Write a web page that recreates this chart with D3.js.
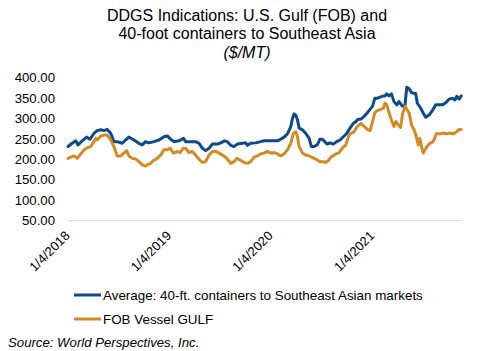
<!DOCTYPE html>
<html><head><meta charset="utf-8">
<script src="https://cdn.jsdelivr.net/npm/d3@7"></script>
<style>
body{margin:0;background:#fff}
svg{display:block;font-family:"Liberation Sans",Arial,sans-serif}
</style>
</head><body>
<svg id="chart" width="491" height="351"></svg>
<script>
const titleLines = ["DDGS Indications: U.S. Gulf (FOB) and", "40-foot containers to Southeast Asia", "($/MT)"];
const seriesNames = ["Average: 40-ft. containers to Southeast Asian markets", "FOB Vessel GULF"];
const sourceText = "Source: World Perspectives, Inc.";
const yTicks = [50, 100, 150, 200, 250, 300, 350, 400];
const xTickDates = ["2018-01-04", "2019-01-04", "2020-01-04", "2021-01-04"];
const xTickLabels = ["1/4/2018", "1/4/2019", "1/4/2020", "1/4/2021"];

const blueDates = ["2018-01-04","2018-01-19","2018-02-01","2018-02-09","2018-02-24","2018-03-12","2018-03-24","2018-04-07","2018-04-19","2018-05-02","2018-05-13","2018-05-25","2018-06-07","2018-06-18","2018-06-30","2018-07-18","2018-07-30","2018-08-11","2018-08-29","2018-09-16","2018-09-28","2018-10-10","2018-10-22","2018-11-09","2018-11-27","2018-12-15","2018-12-27","2019-01-08","2019-01-20","2019-02-07","2019-02-23","2019-03-03","2019-03-21","2019-04-08","2019-04-20","2019-05-02","2019-05-14","2019-05-26","2019-06-07","2019-06-25","2019-07-07","2019-07-21","2019-07-31","2019-08-12","2019-08-24","2019-09-05","2019-09-23","2019-10-05","2019-10-11","2019-10-23","2019-11-10","2019-11-28","2019-12-10","2019-12-28","2020-01-15","2020-01-27","2020-02-08","2020-02-20","2020-03-03","2020-03-15","2020-03-21","2020-03-27","2020-04-02","2020-04-08","2020-04-14","2020-04-26","2020-05-08","2020-05-20","2020-05-28","2020-06-07","2020-06-18","2020-06-28","2020-07-06","2020-07-15","2020-07-24","2020-08-03","2020-08-15","2020-08-27","2020-09-08","2020-09-20","2020-10-02","2020-10-14","2020-10-26","2020-11-04","2020-11-12","2020-11-22","2020-12-01","2020-12-13","2020-12-25","2021-01-03","2021-01-11","2021-01-20","2021-01-30","2021-02-11","2021-02-17","2021-02-23","2021-03-03","2021-03-12","2021-03-21","2021-03-31","2021-04-08","2021-04-20","2021-04-29","2021-05-06","2021-05-14","2021-05-23","2021-06-01","2021-06-07","2021-06-13","2021-06-25","2021-07-05","2021-07-13","2021-07-25","2021-08-06","2021-08-18","2021-08-30","2021-09-11","2021-09-23","2021-10-05","2021-10-17","2021-10-26","2021-11-02","2021-11-10","2021-11-18"];
const blueValues = [231,239,245,235,245,254,249,263,270,272,270,273,263,243,243,239,247,254,247,239,235,243,240,243,247,255,257,249,243,245,251,243,243,243,239,227,221,227,237,237,240,245,243,234,231,237,239,240,234,239,240,243,245,245,245,245,249,254,262,280,300,311,308,296,276,272,263,251,231,231,235,249,249,243,237,240,237,243,247,255,263,276,288,292,298,298,303,312,322,330,349,349,352,355,355,360,355,360,341,333,341,330,329,376,373,363,361,361,337,325,312,303,308,319,333,333,333,338,347,349,345,354,347,355];

const orangeDates = ["2018-01-04","2018-01-14","2018-01-26","2018-02-06","2018-02-19","2018-03-03","2018-03-14","2018-03-27","2018-04-07","2018-04-14","2018-04-19","2018-05-02","2018-05-13","2018-05-25","2018-06-07","2018-06-18","2018-06-30","2018-07-13","2018-07-24","2018-08-03","2018-08-11","2018-08-23","2018-09-04","2018-09-16","2018-09-28","2018-10-10","2018-10-16","2018-10-28","2018-11-09","2018-11-21","2018-12-03","2018-12-15","2018-12-27","2019-01-06","2019-01-18","2019-01-30","2019-02-11","2019-02-23","2019-03-03","2019-03-15","2019-03-27","2019-04-08","2019-04-20","2019-05-02","2019-05-14","2019-05-26","2019-06-07","2019-06-19","2019-07-01","2019-07-13","2019-07-25","2019-07-31","2019-08-12","2019-08-24","2019-09-03","2019-09-15","2019-09-29","2019-10-11","2019-10-23","2019-11-04","2019-11-16","2019-11-28","2019-12-10","2019-12-22","2020-01-03","2020-01-15","2020-01-27","2020-02-08","2020-02-20","2020-03-03","2020-03-15","2020-03-24","2020-04-02","2020-04-08","2020-04-14","2020-04-26","2020-05-08","2020-05-14","2020-05-26","2020-06-07","2020-06-18","2020-06-28","2020-07-10","2020-07-18","2020-07-27","2020-08-08","2020-08-24","2020-09-05","2020-09-16","2020-09-29","2020-10-10","2020-10-17","2020-10-28","2020-11-09","2020-11-22","2020-12-03","2020-12-15","2020-12-25","2021-01-03","2021-01-11","2021-01-20","2021-02-01","2021-02-11","2021-02-17","2021-02-23","2021-03-04","2021-03-12","2021-03-21","2021-03-28","2021-04-05","2021-04-14","2021-04-21","2021-04-30","2021-05-08","2021-05-15","2021-05-23","2021-06-01","2021-06-08","2021-06-16","2021-06-22","2021-06-28","2021-07-04","2021-07-10","2021-07-18","2021-07-28","2021-08-09","2021-08-21","2021-09-02","2021-09-14","2021-09-26","2021-10-08","2021-10-20","2021-11-01","2021-11-10","2021-11-18"];
const orangeValues = [202,205,208,202,213,223,228,231,243,251,247,257,259,259,247,231,208,208,215,221,208,202,201,194,186,183,186,190,198,202,210,223,223,227,215,219,216,227,227,216,219,210,200,192,194,210,219,219,215,210,205,200,190,194,202,198,192,190,194,205,208,213,215,219,215,216,213,208,213,223,239,263,267,255,231,215,210,210,206,202,198,194,194,192,196,206,213,216,227,235,259,263,267,280,288,281,273,270,292,314,319,322,325,337,333,312,296,280,292,284,278,312,329,320,312,284,272,259,235,251,231,215,223,231,239,243,263,262,264,262,264,262,267,273,273];

const colors = ["#0D4A8B", "#D48A22"];
const parse = d3.timeParse("%Y-%m-%d");
const blue = blueDates.map((d, i) => ({date: parse(d), value: blueValues[i]}));
const orange = orangeDates.map((d, i) => ({date: parse(d), value: orangeValues[i]}));

const svg = d3.select("#chart");

const x = d3.scaleTime()
  .domain([parse("2018-01-04"), parse("2021-11-18")])
  .range([68, 461.3]);
const y = d3.scaleLinear().domain([50, 400]).range([220.5, 77.5]);

// Title
const title = svg.append("g").attr("text-anchor", "middle").attr("fill", "#000").attr("font-size", 16);
title.selectAll("text").data(titleLines).join("text")
  .attr("x", 247)
  .attr("y", (d, i) => 20.5 + i * 18.5)
  .attr("font-style", (d, i) => i === 2 ? "italic" : "normal")
  .text(d => d);

// Y axis labels
const yAxis = d3.axisLeft(y).tickValues(yTicks).tickFormat(d3.format(".2f")).tickSize(0).tickPadding(0);
const yG = svg.append("g").attr("transform", "translate(55,0)").call(yAxis);
yG.select(".domain").remove();
yG.selectAll("text").attr("font-size", 13.2).attr("fill", "#000")
  .attr("font-family", '"Liberation Sans",Arial,sans-serif');

// X baseline
const xAxis = d3.axisBottom(x).tickValues(xTickDates.map(parse)).tickSize(0)
  .tickFormat((d, i) => xTickLabels[i]);
const xG = svg.append("g").attr("transform", "translate(0," + y(50) + ")").call(xAxis);
xG.select(".domain").attr("stroke", "#d9d9d9").attr("stroke-width", 1)
  .attr("d", "M68,0H462");
xG.selectAll(".tick text")
  .attr("font-size", 13).attr("fill", "#000")
  .attr("font-family", '"Liberation Sans",Arial,sans-serif')
  .attr("text-anchor", "end")
  .attr("y", 0).attr("dy", 0)
  .attr("transform", "translate(2,16) rotate(-45)");

// Lines
const line = d3.line().x(d => x(d.date)).y(d => y(d.value)).curve(d3.curveLinear);
[blue, orange].forEach((data, i) => {
  svg.append("path").datum(data)
    .attr("fill", "none")
    .attr("stroke", colors[i])
    .attr("stroke-width", 3)
    .attr("stroke-linejoin", "round")
    .attr("stroke-linecap", "round")
    .attr("d", line);
});

// Legend
const legend = svg.append("g");
seriesNames.forEach((name, i) => {
  const yy = 295 + i * 24;
  legend.append("line").attr("x1", 74).attr("x2", 101).attr("y1", yy).attr("y2", yy)
    .attr("stroke", colors[i]).attr("stroke-width", 3);
  legend.append("text").attr("x", 103).attr("y", yy + 4.5)
    .attr("font-size", 13.4).attr("fill", "#000").text(name);
});

// Source
svg.append("text").attr("x", 8).attr("y", 347)
  .attr("font-size", 13.2).attr("font-style", "italic").attr("fill", "#000")
  .text(sourceText);
</script>
</body></html>
